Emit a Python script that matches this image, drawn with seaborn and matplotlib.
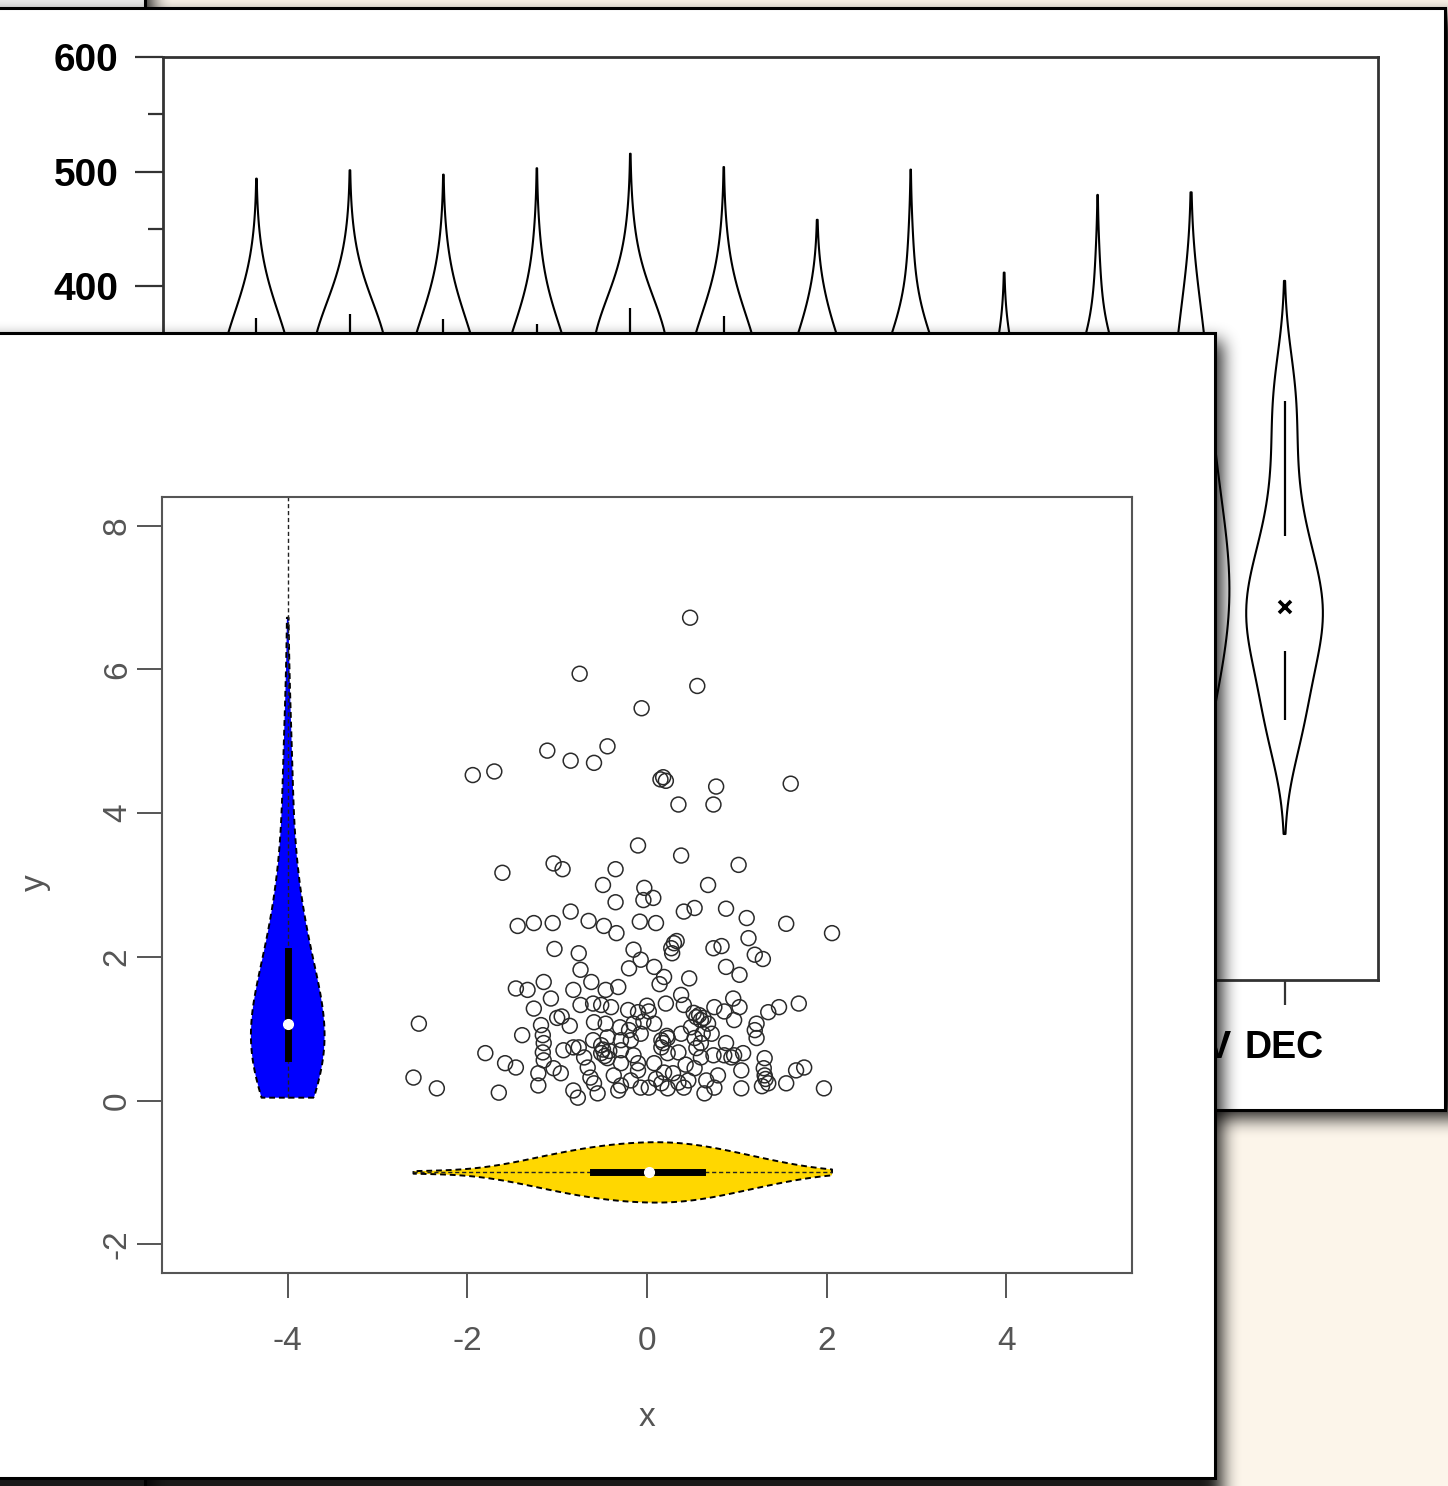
import numpy as np
import pandas as pd
import matplotlib
matplotlib.use("Agg")
import matplotlib.pyplot as plt
import seaborn as sns
from matplotlib.patches import Rectangle
from matplotlib.ticker import FixedLocator

# ---------------- data: back chart (monthly violins) ----------------
months = ["JAN", "FEB", "MAR", "APR", "MAY", "JUN", "JUL", "AUG", "SEP", "OCT", "NOV", "DEC"]
jan = [60, 100, 130, 155, 175, 192, 206, 218,
       230, 234, 238, 242, 246, 250, 254, 258, 262, 266, 270, 274, 278, 282, 286, 290, 294, 298,
       302, 306, 310, 314, 318, 322, 326, 330, 334, 338, 342, 346, 350, 354, 358, 362, 365,
       372, 384, 398, 423]
feb = [65, 105, 135, 160, 180, 196, 209,
       220, 225, 230, 235, 240, 245, 250, 255, 260, 265, 270, 275, 280, 285, 290, 295, 300, 305,
       310, 315, 320, 324, 328, 332, 336, 340, 344, 347, 350, 353, 356, 359, 362, 365, 368,
       376, 389, 403, 428]
mar = [55, 98, 128, 152, 172, 189, 203, 215,
       227, 231, 235, 239, 243, 247, 251, 255, 259, 263, 267, 271, 275, 279, 283, 287, 291, 295,
       299, 303, 307, 311, 315, 319, 323, 327, 331, 335, 339, 343, 347, 351, 355, 359, 363,
       371, 384, 398, 426]
apr = [50, 92, 122, 147, 168, 185, 199, 211,
       222, 226, 230, 234, 238, 242, 246, 250, 254, 258, 262, 266, 270, 274, 278, 282, 286, 290,
       294, 298, 302, 306, 310, 314, 318, 322, 326, 330, 334, 338, 342, 346, 350, 354, 358,
       367, 381, 396, 431]
may = [70, 110, 140, 165, 185, 201, 214,
       225, 230, 235, 240, 245, 250, 255, 260, 265, 270, 275, 280, 285, 290, 295, 300, 305, 310,
       315, 320, 325, 329, 333, 337, 341, 345, 349, 352, 355, 358, 361, 364, 367, 370, 373,
       381, 395, 410, 442]
jun = [62, 102, 132, 157, 177, 194, 208, 219,
       230, 234, 238, 242, 246, 250, 254, 258, 262, 266, 270, 274, 278, 282, 286, 290, 294, 298,
       302, 306, 310, 314, 318, 322, 326, 330, 334, 338, 342, 346, 350, 354, 358, 362, 366,
       374, 387, 401, 433]
jul = [40, 80, 110, 135, 155, 172, 186, 198,
       208, 212, 216, 220, 224, 228, 232, 236, 240, 244, 248, 252, 256, 260, 264, 268, 272, 276,
       280, 284, 288, 292, 296, 300, 304, 308, 312, 316, 320, 324, 328, 332, 336, 340,
       350, 362, 374, 388]
aug = [42, 82, 112, 137, 157, 174, 188, 200,
       210, 214, 218, 222, 226, 230, 234, 238, 242, 246, 250, 254, 258, 262, 266, 270, 274, 278,
       282, 286, 290, 294, 298, 302, 306, 310, 314, 318, 322, 326, 330, 334, 338, 342,
       352, 366, 381, 430]
sep = [20, 55, 85, 108, 128, 145, 160, 172,
       182, 186, 190, 194, 198, 202, 206, 210, 214, 218, 222, 226, 230, 234, 238, 242, 246, 250,
       254, 258, 262, 266, 270, 274, 278, 282, 286, 290,
       300, 312, 325, 344]
oct_ = [35, 72, 102, 127, 147, 164, 178, 190,
        200, 204, 208, 212, 216, 220, 224, 228, 232, 236, 240, 244, 248, 252, 256, 260, 264, 268,
        272, 276, 280, 284, 288, 292, 296, 300, 304, 308, 312, 316, 320,
        331, 344, 358, 409]
nov = [-40, -20, 0, 15, 28, 40, 50, 59, 67, 75, 82, 89, 96, 102, 108, 114, 120, 126, 132, 138,
       144, 150, 156, 162, 168, 175, 182, 189, 197, 205, 214, 223, 233, 243, 254, 265, 277, 290,
       304, 319, 335, 352, 368, 381]
dec = [2, 6, 10, 13, 17, 21, 30, 39, 48, 56, 64, 72, 80, 86, 90, 93, 96, 99, 102, 105,
       108, 111, 114, 117, 119, 121, 125, 130, 135, 140, 145, 150, 155, 160, 165, 170, 175,
       184, 194, 205, 217, 230, 244, 259, 274, 289, 300, 310, 316, 324]
back_y_ticks = [400, 500, 600]
back_y_minor = [450, 550]

# ---------------- data: front chart (scatter + marginal violins) ----------------
scatter_x = [0.48, -0.75, 0.56, -0.06, -1.11, -0.85, -0.59, -0.44, -1.94, -1.70,
             0.15, 0.21, 0.18, 0.77, 0.35, 0.74, 1.60, -0.10, 0.38, 1.02,
             -1.61, -1.04, -0.94, -0.35, -0.49, -0.03, 0.68, -0.35, -0.04, 0.07,
             0.41, 0.53, 0.88, 1.11, 1.55, 2.06, -1.44, -1.26, -1.05, -0.85,
             -0.65, -0.48, -0.34, -0.08, 0.10, 1.13, 1.20, 1.29, 0.88, 1.03,
             0.74, 0.83, 0.30, 0.27, -0.15, -1.03, -0.76, -0.74, -0.20, -0.07,
             0.08, 0.19, 0.47, -1.46, -1.33, -1.15, -1.26, -1.07, -0.82, -0.74,
             -0.60, -0.46, -0.32, -0.51, -0.40, -0.21, -0.10, 0.02, 0.21, 0.38,
             0.41, 0.86, 0.96, 1.03, 1.35, 1.47, 1.69, -2.54, -1.00, -0.95,
             -0.59, -0.46, 0.55, 0.60, 0.68, 1.22, -1.39, -1.16, -1.15, -0.60,
             -0.44, -0.29, -0.07, 0.23, 0.38, 0.53, 0.62, 1.22, -1.80, -1.58,
             -1.46, -1.16, -1.15, -0.93, -0.76, -0.70, -0.51, -0.44, -0.29, -0.15,
             -0.10, 0.16, 0.23, 0.35, 0.55, 0.60, 0.74, 0.86, 0.97, 1.07,
             1.31, 1.66, 1.75, -2.60, -2.34, -1.65, -1.21, -1.04, -0.82, -0.77,
             -0.63, -0.59, -0.37, -0.29, -0.18, -0.10, 0.02, 0.16, 0.29, 0.35,
             0.41, 0.53, 0.66, 0.79, 1.05, 1.05, 1.31, 1.35, 1.55, 1.97,
             0.75, 1.20, 0.97, 0.49, 0.08, 0.19, -0.29, -0.66, -0.96, -1.21,
             -0.32, -0.07, 0.23, 0.46, 0.75, 0.94, 0.08, -0.15, 0.16, -0.51,
             -0.82, -0.18, 0.60, 0.72, 0.33, 0.28, 0.58, 0.63, 0.52, -0.47,
             -0.42, -0.49, 0.18, 0.22, 1.30, 1.32, 1.28, -0.04, 0.00, -0.20,
             -0.86, 0.43, 0.10, -0.55, 0.64, -0.30, 0.88, -1.18, 0.14, -0.62]
scatter_y = [6.72, 5.94, 5.77, 5.46, 4.87, 4.73, 4.70, 4.93, 4.53, 4.58,
             4.47, 4.45, 4.50, 4.37, 4.12, 4.12, 4.41, 3.55, 3.41, 3.28,
             3.17, 3.30, 3.22, 3.22, 3.00, 2.96, 3.00, 2.76, 2.79, 2.82,
             2.63, 2.68, 2.67, 2.54, 2.46, 2.33, 2.43, 2.47, 2.47, 2.63,
             2.50, 2.43, 2.33, 2.49, 2.47, 2.26, 2.03, 1.97, 1.86, 1.75,
             2.12, 2.15, 2.19, 2.12, 2.10, 2.11, 2.05, 1.82, 1.84, 1.96,
             1.86, 1.72, 1.70, 1.56, 1.54, 1.65, 1.28, 1.42, 1.54, 1.33,
             1.35, 1.54, 1.58, 1.33, 1.30, 1.26, 1.23, 1.24, 1.35, 1.47,
             1.33, 1.24, 1.42, 1.30, 1.23, 1.30, 1.35, 1.07, 1.15, 1.17,
             1.09, 1.07, 1.16, 1.12, 1.07, 1.07, 0.91, 0.91, 0.80, 0.84,
             0.88, 0.84, 0.93, 0.87, 0.93, 0.87, 0.93, 0.87, 0.66, 0.52,
             0.46, 0.67, 0.56, 0.70, 0.74, 0.60, 0.66, 0.59, 0.70, 0.63,
             0.52, 0.74, 0.66, 0.67, 0.73, 0.60, 0.63, 0.63, 0.63, 0.66,
             0.59, 0.42, 0.46, 0.32, 0.17, 0.11, 0.21, 0.45, 0.14, 0.04,
             0.32, 0.24, 0.35, 0.21, 0.28, 0.42, 0.18, 0.24, 0.38, 0.25,
             0.18, 0.45, 0.28, 0.35, 0.42, 0.17, 0.35, 0.24, 0.24, 0.17,
             1.30, 0.98, 1.12, 1.02, 0.52, 0.39, 0.52, 0.46, 0.38, 0.38,
             0.14, 0.18, 0.17, 0.28, 0.18, 0.60, 1.07, 1.07, 0.84, 0.77,
             0.74, 0.84, 0.80, 0.93, 2.22, 2.05, 1.19, 1.15, 1.22, 0.62,
             0.69, 0.71, 0.80, 0.90, 0.45, 0.30, 0.20, 1.10, 1.32, 0.98,
             1.04, 0.50, 0.30, 0.10, 0.10, 1.02, 0.80, 1.05, 1.62, 1.65]
front_x_ticks = [-4, -2, 0, 2, 4]
front_y_ticks = [-2, 0, 2, 4, 6, 8]
blue_pos = -4.0
gold_pos = -1.0

# ---------------- figure & layout helpers ----------------
W, H = 1448, 1486
BEIGE = "#fcf5ea"
plt.rcParams["font.family"] = ["Liberation Sans", "DejaVu Sans"]

fig = plt.figure(figsize=(W / 100, H / 100), dpi=100)
fig.patch.set_facecolor(BEIGE)


def rect(x0, y0, x1, y1):
    return [x0 / W, 1 - y1 / H, (x1 - x0) / W, (y1 - y0) / H]


def box_blur(a, r, axis):
    pad = [(0, 0), (0, 0)]
    pad[axis] = (r + 1, r)
    p = np.pad(a, pad, mode="edge")
    c = np.cumsum(p, axis=axis)
    n = a.shape[axis]
    hi = np.take(c, np.arange(2 * r + 1, 2 * r + 1 + n), axis=axis)
    lo = np.take(c, np.arange(0, n), axis=axis)
    return (hi - lo) / (2 * r + 1)


def shadow(x0, y0, x1, y1, dx=7, dy=8, r=8, alpha=0.9):
    m = np.zeros((H, W))
    ys, ye = max(0, y0 + dy), min(H, y1 + dy)
    xs, xe = max(0, x0 + dx), min(W, x1 + dx)
    m[ys:ye, xs:xe] = 1.0
    for _ in range(3):
        m = box_blur(m, r, 0)
        m = box_blur(m, r, 1)
    rgba = np.zeros((H, W, 4))
    rgba[..., 3] = m * alpha
    return rgba


def layer(z):
    ax = fig.add_axes([0, 0, 1, 1])
    ax.set_zorder(z)
    ax.patch.set_alpha(0)
    ax.set_xlim(0, W)
    ax.set_ylim(H, 0)
    ax.axis("off")
    return ax


# ---------------- background cards ----------------
bg = layer(0)
bg.imshow(shadow(-40, -40, 145, H + 40), extent=(0, W, H, 0), aspect="auto", zorder=1)
bg.add_patch(Rectangle((-40, -40), 185, H + 80, facecolor="#eeeeee", edgecolor="black", lw=2.2, zorder=2))
bg.imshow(shadow(-40, 8, 1445, 1110), extent=(0, W, H, 0), aspect="auto", zorder=3)
bg.add_patch(Rectangle((-40, 8), 1485, 1102, facecolor="white", edgecolor="black", lw=2.2, zorder=4))
bg.set_xlim(0, W)
bg.set_ylim(H, 0)

# ---------------- back chart ----------------
axb = fig.add_axes(rect(163, 57, 1378, 980))
axb.set_zorder(1)
lists = [jan, feb, mar, apr, may, jun, jul, aug, sep, oct_, nov, dec]
df_back = pd.DataFrame({
    "month": np.repeat(months, [len(v) for v in lists]),
    "value": np.concatenate([np.asarray(v, float) for v in lists]),
})
sns.violinplot(data=df_back, x="month", y="value", order=months, inner=None, cut=2,
               bw_adjust=1.0, density_norm="width", width=0.82, fill=False, color="black",
               linewidth=1.5, ax=axb)
sns.boxplot(data=df_back, x="month", y="value", order=months, whis=(10, 95), width=0.2,
            fill=False, color="black", linewidth=1.6, showfliers=False, showcaps=False,
            boxprops=dict(visible=False), medianprops=dict(visible=False), ax=axb)
sns.pointplot(data=df_back, x="month", y="value", order=months, estimator="median",
              errorbar=None, linestyle="none", marker="x", color="black",
              markersize=9, markeredgewidth=2.6, ax=axb)
axb.set_xlim(-1, 12)
axb.set_ylim(-206, 600)
axb.set_facecolor("white")
axb.set_xlabel("")
axb.set_ylabel("")
axb.yaxis.set_major_locator(FixedLocator(back_y_ticks))
axb.yaxis.set_minor_locator(FixedLocator(back_y_minor))
axb.set_yticklabels([str(v) for v in back_y_ticks])
for s in axb.spines.values():
    s.set_color("#333333")
    s.set_linewidth(2.0)
axb.tick_params(axis="y", which="major", left=True, length=20, width=1.6, color="#333333",
                pad=12, labelsize=28, labelcolor="black")
axb.tick_params(axis="y", which="minor", left=True, length=11, width=1.6, color="#333333")
axb.tick_params(axis="x", which="major", bottom=True, length=18, width=1.6, color="#333333",
                pad=18, labelsize=27, labelcolor="black")
for lab in axb.get_xticklabels() + axb.get_yticklabels():
    lab.set_fontweight("bold")

# ---------------- front card ----------------
mid = layer(2)
mid.imshow(shadow(-40, 333, 1215, 1478), extent=(0, W, H, 0), aspect="auto", zorder=1)
mid.add_patch(Rectangle((-40, 333), 1255, 1145, facecolor="white", edgecolor="black", lw=2.2, zorder=2))
mid.set_xlim(0, W)
mid.set_ylim(H, 0)

# ---------------- front chart ----------------
axf = fig.add_axes(rect(162, 497, 1132, 1273))
axf.set_zorder(3)
axf.set_facecolor("white")
sx = np.asarray(scatter_x, float)
sy = np.asarray(scatter_y, float)
n = len(sx)
GREY = "#555555"

sns.scatterplot(x=sx, y=sy, facecolor="none", edgecolor="#2a2a2a", s=115, linewidth=1.1,
                marker="o", ax=axf, zorder=3)

# marginal violin of y (blue, vertical, at x=-4)
sns.violinplot(x=np.full(n, blue_pos), y=sy, native_scale=True, orient="x", color="#0000ff",
               saturation=1, linecolor="black", linewidth=1.4, linestyle=(0, (3, 2)), cut=0,
               bw_adjust=1.9, width=0.82, inner="box",
               inner_kws=dict(box_width=5, whis_width=0, marker="o", markersize=7),
               ax=axf)
axf.vlines(blue_pos, sy.min(), 8.4, colors="#222222", linestyles=(0, (3, 2)), lw=1.0, zorder=1.5)

# marginal violin of x (gold, horizontal, at y=-1)
sns.violinplot(x=sx, y=np.full(n, gold_pos), native_scale=True, orient="y", color="#ffd700",
               saturation=1, linecolor="black", linewidth=1.4, linestyle=(0, (3, 2)), cut=0,
               bw_adjust=1.3, width=0.84, inner="box",
               inner_kws=dict(box_width=5, whis_width=0, marker="o", markersize=7),
               ax=axf)
axf.hlines(gold_pos, sx.min(), sx.max(), colors="#222222", linestyles=(0, (3, 2)), lw=1.0, zorder=1.5)

axf.set_xlim(-5.4, 5.4)
axf.set_ylim(-2.4, 8.4)
axf.xaxis.set_major_locator(FixedLocator(front_x_ticks))
axf.yaxis.set_major_locator(FixedLocator(front_y_ticks))
axf.set_xticklabels([str(v) for v in front_x_ticks])
axf.set_yticklabels([str(v) for v in front_y_ticks])
for s in axf.spines.values():
    s.set_color(GREY)
    s.set_linewidth(1.5)
axf.tick_params(axis="both", which="major", direction="out", length=18, width=1.4,
                color=GREY, labelcolor=GREY, labelsize=24, bottom=True, left=True)
axf.tick_params(axis="x", pad=20)
axf.tick_params(axis="y", pad=3, labelrotation=90)
for lab in axf.get_yticklabels():
    lab.set_verticalalignment("center")
axf.set_xlabel("x", fontsize=24, color=GREY)
axf.set_ylabel("y", fontsize=24, color=GREY)
axf.xaxis.set_label_coords(0.5, (1273 - 1418) / 776)
axf.xaxis.label.set_verticalalignment("center")
axf.yaxis.set_label_coords((35 - 162) / 970, (1273 - 883) / 776)
axf.yaxis.label.set_verticalalignment("center")
axf.yaxis.label.set_horizontalalignment("center")

fig.savefig("out.png", dpi=100, facecolor=fig.get_facecolor())
